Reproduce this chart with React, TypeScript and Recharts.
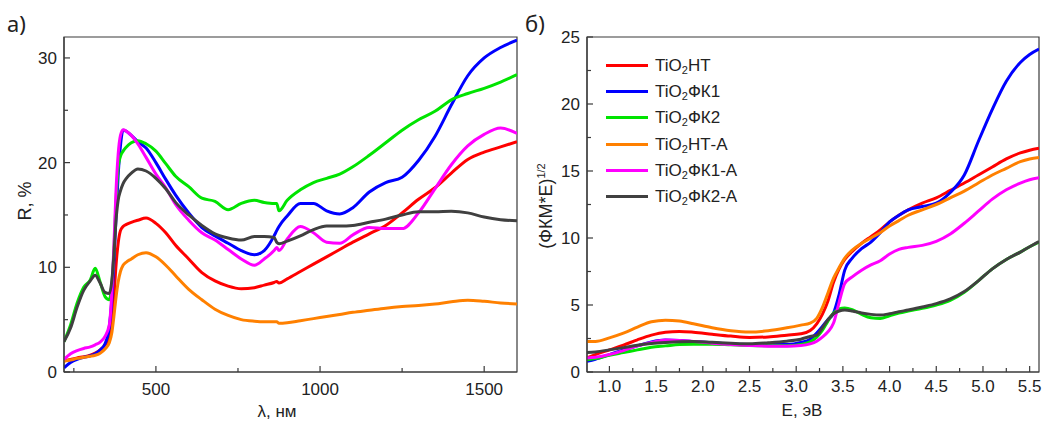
import React from 'react';
import { LineChart, Line, XAxis, YAxis, ReferenceArea } from 'recharts';

// ---- panel a) : reflectance spectra ----
const wavelengths = [
  220, 240, 260, 280, 300, 315, 330, 345, 358, 366, 372, 378, 385, 392, 400, 410,
  425, 445, 470, 500, 530, 560, 600, 640, 680, 720, 760, 800, 830, 860, 868, 875,
  900, 940, 980, 1020, 1060, 1100, 1150, 1200, 1250, 1300, 1350, 1400, 1450, 1500, 1550, 1600,
];
const reflHT = [
  1.05, 1.2, 1.35, 1.45, 1.6, 1.8, 2.1, 2.6, 3.3, 4.6, 7.0, 10.0, 12.3, 13.5, 13.9, 14.1,
  14.3, 14.5, 14.7, 14.2, 13.3, 12.1, 10.8, 9.5, 8.7, 8.2, 7.95, 8.05, 8.3, 8.55, 8.65, 8.5,
  8.9, 9.6, 10.3, 11.0, 11.7, 12.4, 13.2, 14.0, 15.2, 16.5, 17.6, 19.0, 20.3, 21.0, 21.5, 22.0,
];
const reflFK1 = [
  0.4, 0.9, 1.2, 1.4, 1.55, 1.75, 2.1, 2.7, 4.3, 7.0, 10.5, 14.5, 18.8, 21.6, 23.1, 23.0,
  22.6, 22.0, 21.4, 20.0, 18.4, 16.9, 15.2, 13.8, 13.0, 12.3, 11.6, 11.2, 11.6, 13.0, 13.5, 13.9,
  14.9, 16.1, 16.1, 15.4, 15.1, 15.7, 17.2, 18.1, 18.6, 20.2, 22.5, 25.5, 28.3, 30.0, 31.0, 31.7,
];
const reflFK2 = [
  2.9, 4.5, 6.6, 8.1, 8.8, 9.9, 8.6, 7.2, 6.9, 8.5, 11.5, 16.0, 19.5, 20.6, 21.1, 21.5,
  21.9, 22.1, 21.8, 21.1, 19.9, 18.7, 17.7, 16.6, 16.3, 15.5, 16.1, 16.4, 16.2, 16.1, 16.1, 15.4,
  16.4, 17.4, 18.1, 18.5, 18.9, 19.6, 20.7, 21.9, 23.1, 24.1, 24.9, 26.0, 26.6, 27.1, 27.7, 28.4,
];
const reflHTA = [
  1.05, 1.15, 1.3, 1.4, 1.5, 1.6, 1.8, 2.2, 2.8, 3.8, 5.3, 7.0, 8.6, 9.6, 10.2, 10.5,
  10.8, 11.2, 11.4, 11.0, 10.2, 9.2, 7.9, 6.9, 6.0, 5.4, 5.0, 4.85, 4.8, 4.8, 4.8, 4.65,
  4.7, 4.9, 5.1, 5.3, 5.5, 5.7, 5.9, 6.1, 6.25, 6.35, 6.5, 6.7, 6.85, 6.75, 6.6, 6.5,
];
const reflFK1A = [
  1.2, 1.75, 2.05, 2.25, 2.4, 2.6, 2.85, 3.4, 4.5, 7.8, 12.0, 17.0, 20.8, 22.6, 23.15, 23.0,
  22.6, 21.8, 20.5, 18.9, 17.6, 16.0, 14.5, 13.3, 12.6, 11.7, 10.8, 10.2, 10.8, 11.6, 11.9, 11.6,
  12.7, 13.9, 13.3, 12.4, 12.3, 13.1, 13.8, 13.7, 13.7, 15.2, 17.5, 19.8, 21.6, 22.7, 23.3, 22.8,
];
const reflFK2A = [
  2.9, 4.2, 6.2, 7.8, 8.7, 9.25, 8.5, 7.6, 7.5, 8.8, 11.2, 14.3, 16.4, 17.3, 18.0, 18.5,
  19.0, 19.4, 19.2, 18.5, 17.5, 16.2, 15.0, 14.0, 13.2, 12.8, 12.6, 12.95, 12.95, 12.85, 12.4, 12.25,
  12.5, 13.0, 13.6, 13.95, 13.95, 14.0, 14.3, 14.6, 15.0, 15.3, 15.3, 15.35, 15.2, 14.8, 14.55, 14.45,
];

// ---- panel б) : Kubelka-Munk ----
const energies = [
  0.76, 0.85, 1.0, 1.15, 1.3, 1.45, 1.6, 1.75, 1.9, 2.1, 2.3, 2.5, 2.7, 2.9, 3.05, 3.15,
  3.22, 3.28, 3.34, 3.4, 3.46, 3.52, 3.6, 3.7, 3.8, 3.9, 4.0, 4.1, 4.2, 4.35, 4.5, 4.65,
  4.8, 4.95, 5.1, 5.25, 5.4, 5.5, 5.6,
];
const kmHT = [
  1.05, 1.3, 1.65, 2.0, 2.4, 2.75, 2.97, 3.03, 2.97, 2.82, 2.68, 2.58, 2.62, 2.75, 2.85, 3.1,
  3.6, 4.3, 5.3, 6.7, 7.7, 8.4, 9.0, 9.6, 10.1, 10.6, 11.2, 11.7, 12.1, 12.6, 13.0, 13.55,
  14.1, 14.7, 15.3, 15.9, 16.35, 16.55, 16.7,
];
const kmFK1 = [
  0.8, 0.95, 1.3, 1.65, 1.95, 2.25, 2.38, 2.35, 2.28, 2.18, 2.1, 2.05, 2.05, 2.05, 2.2, 2.45,
  2.9, 3.4, 3.9, 4.4, 5.8, 7.6, 8.5, 9.2, 9.7, 10.4, 11.2, 11.7, 12.1, 12.35, 12.6, 13.4,
  14.7, 17.2, 19.6, 21.7, 23.1, 23.7, 24.1,
];
const kmFK2 = [
  0.92, 1.0, 1.25, 1.45, 1.65, 1.85, 1.95, 2.05, 2.08, 2.08, 2.03, 1.98, 1.96, 1.96, 2.05, 2.25,
  2.6, 3.1, 3.8, 4.4, 4.7, 4.78, 4.65, 4.3, 4.05, 4.0, 4.2, 4.4, 4.55, 4.75, 5.0, 5.35,
  5.95, 6.8, 7.7, 8.4, 8.95, 9.35, 9.7,
];
const kmHTA = [
  2.28, 2.28, 2.55, 2.9, 3.35, 3.75, 3.87, 3.8, 3.6, 3.3, 3.08, 2.98, 3.08, 3.3, 3.5, 3.65,
  4.0, 4.8, 5.9, 7.0, 7.8, 8.5, 9.1, 9.6, 10.0, 10.4, 10.9, 11.3, 11.7, 12.1, 12.5, 13.0,
  13.5, 14.1, 14.7, 15.2, 15.7, 15.9, 16.0,
];
const kmFK1A = [
  1.05, 1.1, 1.3, 1.6, 1.95, 2.2, 2.38, 2.35, 2.28, 2.15, 2.05, 1.98, 1.93, 1.92, 1.97, 2.1,
  2.3, 2.6, 3.0, 3.65, 5.2, 6.6, 7.1, 7.6, 8.0, 8.3, 8.8, 9.15, 9.3, 9.45, 9.75, 10.3,
  11.1, 12.0, 12.9, 13.6, 14.1, 14.35, 14.5,
];
const kmFK2A = [
  1.45, 1.5, 1.65, 1.82, 2.0, 2.12, 2.2, 2.26, 2.28, 2.22, 2.15, 2.1, 2.18, 2.3, 2.45, 2.65,
  2.75, 3.3, 3.9, 4.35, 4.55, 4.62, 4.55, 4.4, 4.3, 4.25, 4.35, 4.5, 4.62, 4.85, 5.1, 5.45,
  6.0, 6.8, 7.7, 8.4, 8.95, 9.35, 9.73,
];

// ---- ticks ----
const leftXTicks = [250, 500, 750, 1000, 1250, 1500];
const leftXMajor = [500, 1000, 1500];
const leftYTicks = [0, 5, 10, 15, 20, 25, 30];
const leftYMajor = [0, 10, 20, 30];
const rightXTicks = [1.0, 1.25, 1.5, 1.75, 2.0, 2.25, 2.5, 2.75, 3.0, 3.25, 3.5, 3.75, 4.0, 4.25, 4.5, 4.75, 5.0, 5.25, 5.5];
const rightXMajor = [1.0, 1.5, 2.0, 2.5, 3.0, 3.5, 4.0, 4.5, 5.0, 5.5];
const rightYTicks = [0, 2.5, 5, 7.5, 10, 12.5, 15, 17.5, 20, 22.5, 25];
const rightYMajor = [0, 5, 10, 15, 20, 25];

const seriesKeys = ['ht', 'fk1', 'fk2', 'hta', 'fk1a', 'fk2a'];
const seriesLabels = ['НТ', 'ФК1', 'ФК2', 'НТ-А', 'ФК1-А', 'ФК2-А'];
const seriesColors = ['#ff0000', '#0000ff', '#00e400', '#ff8000', '#ff00ff', '#404040'];

const leftData = wavelengths.map((x, i) => ({
  x, ht: reflHT[i], fk1: reflFK1[i], fk2: reflFK2[i], hta: reflHTA[i], fk1a: reflFK1A[i], fk2a: reflFK2A[i],
}));
const rightData = energies.map((x, i) => ({
  x, ht: kmHT[i], fk1: kmFK1[i], fk2: kmFK2[i], hta: kmHTA[i], fk1a: kmFK1A[i], fk2a: kmFK2A[i],
}));

const FONT = '"Liberation Sans", Arial, sans-serif';
const AXIS = '#3a3a3a';
const CHART_H = 422;
const X_AXIS_H = 50;
const TOP = 37;

function YTick(props: any) {
  const { y, payload, axisX, majors, digits } = props;
  const v = payload.value;
  const major = majors.includes(v);
  return (
    <g>
      <line x1={axisX} x2={axisX + (major ? 6 : 4)} y1={y} y2={y} stroke={AXIS} strokeWidth={1.2} />
      {major && (
        <text x={axisX - 7} y={y + 6} textAnchor="end" fontSize={17} fontFamily={FONT} fill="#222">
          {v.toFixed(digits)}
        </text>
      )}
    </g>
  );
}

function XTick(props: any) {
  const { x, payload, axisY, majors, digits, baseline } = props;
  const v = payload.value;
  const major = majors.includes(v);
  return (
    <g>
      <line x1={x} x2={x} y1={axisY} y2={axisY - (major ? 6 : 4)} stroke={AXIS} strokeWidth={1.2} />
      {major && (
        <text x={x} y={axisY + baseline} textAnchor="middle" fontSize={17} fontFamily={FONT} fill="#222">
          {v.toFixed(digits)}
        </text>
      )}
    </g>
  );
}

function Panel({ data, width, yWidth, right, xDomain, yDomain, xTicks, xMajor, yTicks, yMajor, xDigits, yDigits, baseline }: any) {
  const axisY = CHART_H - X_AXIS_H;
  return (
    <LineChart width={width} height={CHART_H} data={data} margin={{ top: TOP, right, bottom: 0, left: 0 }}>
      <XAxis
        dataKey="x"
        type="number"
        domain={xDomain}
        allowDataOverflow
        ticks={xTicks}
        interval={0}
        height={X_AXIS_H}
        tickSize={0}
        tickLine={false}
        axisLine={{ stroke: AXIS, strokeWidth: 1.2 }}
        tick={<XTick axisY={axisY} majors={xMajor} digits={xDigits} baseline={baseline} />}
      />
      <YAxis
        type="number"
        domain={yDomain}
        allowDataOverflow
        ticks={yTicks}
        interval={0}
        width={yWidth}
        tickSize={0}
        tickLine={false}
        axisLine={{ stroke: AXIS, strokeWidth: 1.2 }}
        tick={<YTick axisX={yWidth} majors={yMajor} digits={yDigits} />}
      />
      <ReferenceArea x1={xDomain[0]} x2={xDomain[1]} y1={yDomain[0]} y2={yDomain[1]} fill="none" stroke={AXIS} strokeWidth={1.2} strokeOpacity={1} fillOpacity={0} />
      {seriesKeys.map((k, i) => (
        <Line key={k} type="monotone" dataKey={k} stroke={seriesColors[i]} strokeWidth={3} dot={false} activeDot={false} isAnimationActive={false} />
      ))}
    </LineChart>
  );
}

export default function App() {
  const txt: React.CSSProperties = { position: 'absolute', fontFamily: FONT, color: '#222', whiteSpace: 'nowrap', lineHeight: 1 };
  return (
    <div style={{ position: 'absolute', left: 0, top: 0, width: 1042, height: 422, background: '#fff', overflow: 'hidden' }}>
      <div style={{ position: 'absolute', left: 0, top: 0 }}>
        <Panel
          data={leftData} width={530} yWidth={64} right={13}
          xDomain={[220, 1600]} yDomain={[0, 32]}
          xTicks={leftXTicks} xMajor={leftXMajor} yTicks={leftYTicks} yMajor={leftYMajor}
          xDigits={0} yDigits={0} baseline={23}
        />
      </div>
      <div style={{ position: 'absolute', left: 530, top: 0 }}>
        <Panel
          data={rightData} width={512} yWidth={57} right={3}
          xDomain={[0.76, 5.6]} yDomain={[0, 25]}
          xTicks={rightXTicks} xMajor={rightXMajor} yTicks={rightYTicks} yMajor={rightYMajor}
          xDigits={1} yDigits={0} baseline={20}
        />
      </div>

      <div style={{ ...txt, left: 7, top: 12, fontFamily: '"Noto Sans", sans-serif', fontSize: 22 }}>а)</div>
      <div style={{ ...txt, left: 525, top: 12, fontFamily: '"Noto Sans", sans-serif', fontSize: 22 }}>б)</div>

      <div style={{ ...txt, left: 25, top: 201, fontSize: 18, transform: 'translate(-50%, -50%) rotate(-90deg)' }}>R, %</div>
      <div style={{ ...txt, left: 277, top: 403, fontSize: 17, transform: 'translateX(-50%)' }}>λ, нм</div>
      <div style={{ ...txt, left: 802, top: 402, fontSize: 17, transform: 'translateX(-50%)' }}>E, эВ</div>
      <div style={{ ...txt, left: 546, top: 206, fontSize: 18, transform: 'translate(-50%, -50%) rotate(-90deg)' }}>
        (ФКМ*Е)<sup style={{ fontSize: 11, verticalAlign: '0.6em', lineHeight: 0 }}>1/2</sup>
      </div>

      <div style={{ position: 'absolute', left: 606, top: 52 }}>
        {seriesLabels.map((lab, i) => (
          <div key={lab} style={{ display: 'flex', alignItems: 'center', height: 26.3 }}>
            <div style={{ width: 42, height: 3, background: seriesColors[i], marginRight: 7 }} />
            <span style={{ fontFamily: FONT, fontSize: 17, color: '#222', lineHeight: 1, whiteSpace: 'nowrap' }}>
              TiO<sub style={{ fontSize: 11, verticalAlign: '-0.25em', lineHeight: 0 }}>2</sub>{lab}
            </span>
          </div>
        ))}
      </div>
    </div>
  );
}
